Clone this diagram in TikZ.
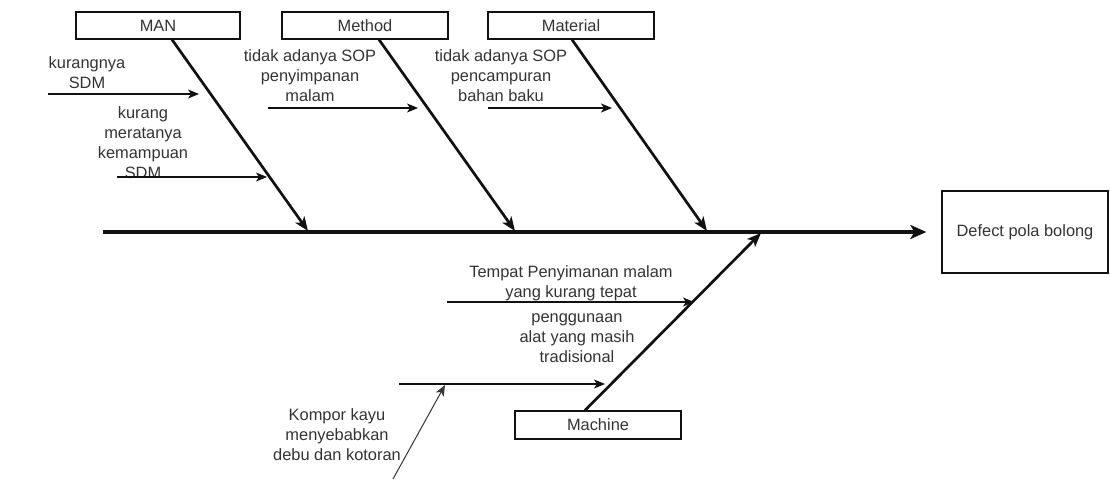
\documentclass[tikz,border=0pt]{standalone}
\usepackage{fontspec}
\setmainfont{Liberation Sans}
\usetikzlibrary{arrows.meta}
\definecolor{ink}{HTML}{111111}
\definecolor{txt}{HTML}{333333}
\begin{document}
\begin{tikzpicture}[x=1pt,y=-1pt,
  every node/.style={font=\fontsize{16.4}{20}\selectfont, text=txt},
  catbox/.style={draw=ink, line width=1.3pt, minimum width=166pt, minimum height=27pt, inner sep=0pt},
  causetext/.style={align=center, anchor=north, inner sep=0pt},
  bone/.style={draw=ink, line width=2.7pt, -{Stealth[length=14pt,width=11pt,inset=3.5pt]}},
  spine/.style={draw=ink, line width=3.2pt, -{Stealth[length=16pt,width=14pt,inset=4pt]}},
  twig/.style={draw=ink, line width=1.6pt, -{Stealth[length=11pt,width=9pt,inset=3pt]}},
  thintwig/.style={draw=ink!85, line width=1pt, -{Stealth[length=11pt,width=9pt,inset=3pt]}}]
\useasboundingbox (0,0) rectangle (1110,479);

% category boxes
\node[catbox, minimum width=164pt] (man) at (158,25.5) {MAN};
\node[catbox] (method) at (365,25.5) {Method};
\node[catbox] (material) at (571,25.5) {Material};
\node[catbox, minimum height=28pt] (machine) at (598,425) {Machine};
\node[draw=ink, line width=1.3pt, minimum width=166pt, minimum height=82pt, inner sep=0pt] (defect) at (1025,232) {Defect pola bolong};

% spine and bone end points
\coordinate (tail) at (103,232);
\coordinate (jman) at (308,231);
\coordinate (jmethod) at (515,231);
\coordinate (jmaterial) at (707,231);
\coordinate (jmachine) at (761,233);

\draw[spine, shorten >=15pt] (tail) -- (defect.west);
\draw[bone] ([xshift=14pt]man.south) -- (jman);
\draw[bone] ([xshift=14pt]method.south) -- (jmethod);
\draw[bone] ([xshift=1pt]material.south) -- (jmaterial);
\draw[bone] ([xshift=-13pt]machine.north) -- (jmachine);

% cause labels
\node[causetext] (c1) at (87,54) {\strut kurangnya\\SDM};
\node[causetext] (c2) at (143,104) {\strut kurang\\meratanya\\kemampuan\\SDM};
\node[causetext] (c3) at (310,47) {\strut tidak adanya SOP\\penyimpanan\\malam};
\node[causetext] (c4) at (501,47) {\strut tidak adanya SOP\\pencampuran\\bahan baku};
\node[causetext] (c5) at (571,263) {\strut Tempat Penyimanan malam\\yang kurang tepat};
\node[causetext] (c6) at (577,308) {\strut penggunaan\\alat yang masih\\tradisional};
\node[causetext] (c7) at (337,406) {\strut Kompor kayu\\menyebabkan\\debu dan kotoran};

% cause arrows
\coordinate (s1) at (48,94);   \coordinate (e1) at (199,94);
\coordinate (s2) at (117,177); \coordinate (e2) at (267,177);
\coordinate (s3) at (268,108); \coordinate (e3) at (418,108);
\coordinate (s4) at (488,108); \coordinate (e4) at (612,108);
\coordinate (s5) at (447,302); \coordinate (e5) at (694,302);
\coordinate (s6) at (399,384); \coordinate (e6) at (605,384);
\coordinate (s7) at (393,479); \coordinate (e7) at (445,385);

\draw[twig] (s1) -- (e1);
\draw[twig] (s2) -- (e2);
\draw[twig] (s3) -- (e3);
\draw[twig] (s4) -- (e4);
\draw[twig] (s5) -- (e5);
\draw[twig] (s6) -- (e6);
\draw[thintwig] (s7) -- (e7);
\end{tikzpicture}
\end{document}
